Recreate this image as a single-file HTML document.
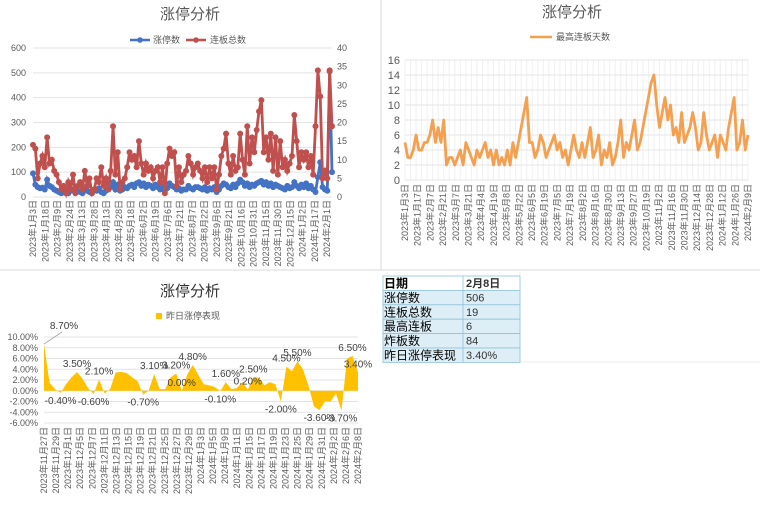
<!DOCTYPE html>
<html><head><meta charset="utf-8"><style>
html,body{margin:0;padding:0;background:#fff;}
svg{display:block;font-family:"Liberation Sans","Noto Sans CJK SC",sans-serif;}
</style></head><body>
<svg id="s" width="760" height="509" viewBox="0 0 760 509">
<line x1="381" y1="0" x2="381" y2="270" stroke="#d9d9d9"/>
<line x1="0" y1="270" x2="760" y2="270" stroke="#d9d9d9"/>
<line x1="381" y1="362" x2="760" y2="362" stroke="#eee"/>
<line x1="520" y1="270" x2="520" y2="362" stroke="#eee"/>
<g id="c1"></g>
<g id="c2"></g>
<g id="c3"></g>
<g id="tb"></g>
</svg>
<script>
// ---- chart 1 data ----
const c1Labels=["2023年1月3日","2023年1月18日","2023年2月9日","2023年2月24日","2023年3月13日","2023年3月28日","2023年4月13日","2023年4月28日","2023年5月18日","2023年6月2日","2023年6月19日","2023年7月6日","2023年7月21日","2023年8月7日","2023年8月22日","2023年9月6日","2023年9月21日","2023年10月16日","2023年10月31日","2023年11月15日","2023年11月30日","2023年12月15日","2024年1月2日","2024年1月17日","2024年2月1日"];
const c1LimitUp=[95,50,40,35,38, 30,70,45,40,30, 25,20,15,25,20, 15,25,30,20,25, 20,15,30,25,20, 15,30,25,35,20, 15,25,30,40,60, 30,50,25,30,40, 35,45,50,40,55, 60,45,55,40,50, 45,35,50,40,30, 40,25,35,55,45, 40,30,35,25,30, 30,45,35,30,40, 40,35,30,40,25, 35,30,40,20,30, 45,55,50,40,35, 50,40,55,70,60, 45,55,40,50,45, 55,60,65,50,60, 45,55,40,50,45, 40,35,30,45,35, 40,60,45,35,50, 40,55,35,45,30, 20,80,140,40,30,25,506,100];
const c1Streak=[14,13,5,9,11, 8,16,9,10,7, 6,4,2,3,1, 4,2,6,1,3, 4,2,7,3,5, 1,2,5,4,8, 3,5,2,7,19, 6,12,2,4,5, 8,12,10,11,8, 15,9,6,9,7, 8,5,7,8,4, 8,1,9,13,11, 12,3,8,4,6, 7,11,9,6,8, 9,7,5,8,4, 8,5,8,2,6, 11,13,17,9,6, 11,7,8,17,10, 6,19,9,16,12, 18,23,26,12,16, 10,17,7,16,6, 15,8,10,7,9, 11,22,15,8,12, 10,12,8,11,6, 19,34,27,5,7,5,34,19];
const c1LeftTicks=[0,100,200,300,400,500,600];
const c1RightTicks=[0,5,10,15,20,25,30,35,40];
// ---- chart 2 data ----
const c2Labels=["2023年1月3日","2023年1月17日","2023年2月7日","2023年2月21日","2023年3月7日","2023年3月21日","2023年4月4日","2023年4月19日","2023年5月8日","2023年5月22日","2023年6月5日","2023年6月19日","2023年7月5日","2023年7月19日","2023年8月2日","2023年8月16日","2023年8月30日","2023年9月13日","2023年9月27日","2023年10月19日","2023年11月2日","2023年11月16日","2023年11月30日","2023年12月14日","2023年12月28日","2024年1月12日","2024年1月26日","2024年2月9日"];
const c2Values=[5,3,3,4,6, 4,4,5,5,6, 8,5,7,5,8, 2,3,3,2,3, 4,2,5,4,3, 2,4,3,4,5, 3,4,2,4,2, 3,2,4,2,5, 3,5,7,9,11, 5,5,3,4,6, 5,3,4,5,6, 4,5,3,4,2, 4,6,4,3,5, 3,5,7,3,4, 6,2,4,3,5, 2,3,5,8,3, 5,4,6,8,4, 5,7,9,11,13, 14,10,7,9,11, 8,10,6,7,5, 9,5,6,7,9, 7,4,5,9,6, 4,5,6,3,6, 5,4,7,9,11, 4,5,8,4,6];
const c2Ticks=[0,2,4,6,8,10,12,14,16];
// ---- chart 3 data ----
const c3Labels=["2023年11月27日","2023年11月29日","2023年12月1日","2023年12月5日","2023年12月7日","2023年12月11日","2023年12月13日","2023年12月15日","2023年12月19日","2023年12月21日","2023年12月25日","2023年12月27日","2023年12月29日","2024年1月3日","2024年1月5日","2024年1月9日","2024年1月11日","2024年1月15日","2024年1月17日","2024年1月19日","2024年1月23日","2024年1月25日","2024年1月29日","2024年1月31日","2024年2月2日","2024年2月6日","2024年2月8日"];
const c3Values=[8.7,1.5,0.3,-0.4,1.2,2.5,3.5,2.2,0.5,-0.6,2.1,-0.5,0.3,3.4,3.5,3.3,2.5,1.8,-0.7,0,3.1,0.3,0.3,2.5,3.2,0,3,4.8,3,1.2,1,0.7,-0.1,1.6,0.3,0.5,1.6,0.2,2.5,2.4,1,1.6,1.2,-2,4.5,3.6,5.5,4,1,-2.9,-3.6,-2,-2,-0.5,-3.7,6,6.5,3.4];
const c3LabelIdx=[0,3,6,9,10,18,20,24,25,27,32,33,37,38,43,44,46,50,54,56,57];
const c3Ticks=[-6,-4,-2,0,2,4,6,8,10];
// ---- table ----
const tRows=[["日期","2月8日"],["涨停数","506"],["连板总数","19"],["最高连板","6"],["炸板数","84"],["昨日涨停表现","3.40%"]];

const NS="http://www.w3.org/2000/svg";
function mk(p,t,a,txt){const e=document.createElementNS(NS,t);for(const k in a)e.setAttribute(k,a[k]);if(txt!==undefined)e.textContent=txt;p.appendChild(e);return e;}
const gray="#595959";

// ===== Chart 1 =====
(function(){
const g=document.getElementById('c1');
const x0=33,x1=332,yT=48,yB=197;
const yl=v=>yB-(v/600)*(yB-yT), yr=v=>yB-(v/40)*(yB-yT);
const xi=i=>x0+i*(x1-x0)/(c1Streak.length-1);
let t=mk(g,'text',{x:190,y:19,'text-anchor':'middle','font-size':15,fill:gray},'涨停分析');

c1LeftTicks.forEach(v=>{mk(g,'line',{x1:x0,x2:x1,y1:yl(v),y2:yl(v),stroke:'#e3e3e3'});
 const e=mk(g,'text',{x:26,y:yl(v)+3,'text-anchor':'end','font-size':9,fill:gray},v);
 });
c1RightTicks.forEach(v=>{const e=mk(g,'text',{x:337,y:yr(v)+3,'font-size':9,fill:gray},v);
 });
c1Labels.forEach((l,i)=>{const x=x0+i*(327-x0)/(c1Labels.length-1);
 const e=mk(g,'text',{transform:`translate(${x+3},200) rotate(-90)`,'text-anchor':'end','font-size':9,fill:gray},l);
 });
let p=c1LimitUp.map((v,i)=>xi(i)+','+yl(v)).join(' ');
let ln=mk(g,'polyline',{points:p,fill:'none',stroke:'#4472c4','stroke-width':2.8});

c1LimitUp.forEach((v,i)=>{const c=mk(g,'circle',{cx:xi(i),cy:yl(v),r:3,fill:'#4472c4'});
 });
p=c1Streak.map((v,i)=>xi(i)+','+yr(v)).join(' ');
ln=mk(g,'polyline',{points:p,fill:'none',stroke:'#c0504d','stroke-width':2.8});

c1Streak.forEach((v,i)=>{const c=mk(g,'circle',{cx:xi(i),cy:yr(v),r:3,fill:'#c0504d'});
 });
let lg=mk(g,'g',{});
mk(lg,'line',{x1:130,x2:150,y1:40,y2:40,stroke:'#4472c4','stroke-width':2.5});mk(lg,'circle',{cx:140,cy:40,r:2.8,fill:'#4472c4'});
mk(lg,'text',{x:153,y:43,'font-size':9,fill:gray},'涨停数');
lg=mk(g,'g',{});
mk(lg,'line',{x1:186,x2:206,y1:40,y2:40,stroke:'#c0504d','stroke-width':2.5});mk(lg,'circle',{cx:196,cy:40,r:2.8,fill:'#c0504d'});
mk(lg,'text',{x:210,y:43,'font-size':9,fill:gray},'连板总数');
})();

// ===== Chart 2 =====
(function(){
const g=document.getElementById('c2');
const x0=405,x1=748,yT=60,yB=180;
const y=v=>yB-(v/16)*(yB-yT);
const xi=i=>x0+i*(x1-x0)/(c2Values.length-1);
let t=mk(g,'text',{x:572,y:17,'text-anchor':'middle','font-size':15,fill:gray},'涨停分析');

for(let i=0;i<c2Values.length;i+=2)mk(g,'line',{x1:xi(i),x2:xi(i),y1:yT,y2:yB,stroke:'#f0f0f0'});
c2Ticks.forEach(v=>{mk(g,'line',{x1:x0,x2:x1,y1:y(v),y2:y(v),stroke:'#e6e6e6'});
 const e=mk(g,'text',{x:400,y:y(v)+4,'text-anchor':'end','font-size':11,fill:gray},v);
 });
c2Labels.forEach((l,i)=>{const x=x0+i*(x1-x0)/(c2Labels.length-1);
 const e=mk(g,'text',{transform:`translate(${x+3},184) rotate(-90)`,'text-anchor':'end','font-size':9,fill:gray},l);
 });
const ln=mk(g,'polyline',{points:c2Values.map((v,i)=>xi(i)+','+y(v)).join(' '),fill:'none',stroke:'#f4a050','stroke-width':2.8,'stroke-linejoin':'round'});

const lg=mk(g,'g',{});
mk(lg,'line',{x1:530,x2:552,y1:37,y2:37,stroke:'#f4a050','stroke-width':2.5});
mk(lg,'text',{x:556,y:40,'font-size':9,fill:gray},'最高连板天数');
})();

// ===== Chart 3 =====
(function(){
const g=document.getElementById('c3');
const x0=44,x1=358,yT=337,yB=423;
const y=v=>yB-((v+6)/16)*(yB-yT);
const xi=i=>x0+i*(x1-x0)/(c3Values.length-1);
let t=mk(g,'text',{x:190,y:296,'text-anchor':'middle','font-size':15,fill:'#333'},'涨停分析');

c3Ticks.forEach(v=>{mk(g,'line',{x1:x0,x2:x1,y1:y(v),y2:y(v),stroke:'#e3e3e3'});
 const e=mk(g,'text',{x:38,y:y(v)+3,'text-anchor':'end','font-size':9,fill:gray},v.toFixed(2)+'%');
 });
let d='M'+xi(0)+','+y(0)+' '+c3Values.map((v,i)=>'L'+xi(i)+','+y(v)).join(' ')+' L'+xi(c3Values.length-1)+','+y(0)+'Z';
const ar=mk(g,'path',{d:d,fill:'#ffc000'});

c3Labels.forEach((l,i)=>{const x=x0+i*(x1-x0)/(c3Labels.length-1);
 const e=mk(g,'text',{transform:`translate(${x+3},427) rotate(-90)`,'text-anchor':'end','font-size':9,fill:gray},l);
 });
c3LabelIdx.forEach(i=>{const v=c3Values[i];const yy=v>=0?y(v)-5:y(v)+11;
 const e=mk(g,'text',{x:xi(i)+(i===0?20:0),y:i===0?y(v)-15:yy,'text-anchor':'middle','font-size':10,fill:'#404040'},v.toFixed(2)+'%');
 });
mk(g,'line',{x1:xi(0),y1:y(c3Values[0]),x2:xi(0)+18,y2:y(c3Values[0])-12,stroke:'#aaa'});
const lg=mk(g,'g',{});
mk(lg,'rect',{x:156,y:313,width:6,height:6,fill:'#ffc000'});
mk(lg,'text',{x:166,y:319,'font-size':9,fill:gray},'昨日涨停表现');
})();

// ===== Table =====
(function(){
const g=document.getElementById('tb');
const x0=383,xm=463,x1=520,y0=276,rh=14.4;
tRows.forEach((r,i)=>{const yy=y0+i*rh;
 const row=mk(g,'g',{});
 mk(row,'rect',{x:x0,y:yy,width:x1-x0,height:rh,fill:i===0?'#fff':'#ddeef6',stroke:'#8fc3d6','stroke-width':0.8});
 mk(row,'line',{x1:xm,x2:xm,y1:yy,y2:yy+rh,stroke:'#8fc3d6','stroke-width':0.8});
 mk(row,'text',{x:x0+1,y:yy+11.5,'font-size':12,fill:'#000','font-weight':i===0?'bold':'normal'},r[0]);
 mk(row,'text',{x:xm+3,y:yy+11,'font-size':11,fill:'#333','font-weight':i===0?'bold':'normal'},r[1]);
});
})();
</script>
</body></html>
